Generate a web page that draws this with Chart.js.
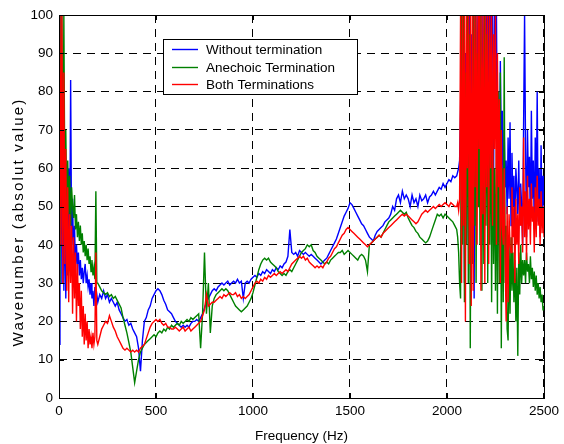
<!DOCTYPE html>
<html>
<head>
<meta charset="utf-8">
<script src="https://cdn.jsdelivr.net/npm/chart.js@4.4.0/dist/chart.umd.min.js"></script>
<style>
  html, body { margin: 0; padding: 0; background: #fff; }
</style>
</head>
<body>
<canvas id="wavenumber-chart" width="564" height="444"></canvas>
<script>
// frequency sampling (Hz): fine steps where the curves are noisy
const lowFreq = [];   // 0 .. 195, every 5 Hz
for (let f = 0; f < 200; f += 5) lowFreq.push(f);
const midFreq = [];   // 200 .. 2040, every 10 Hz
for (let f = 200; f < 2050; f += 10) midFreq.push(f);
const highFreq = [];  // 2050 .. 2500, every 5 Hz
for (let f = 2050; f <= 2500; f += 5) highFreq.push(f);

const xTicks = [0, 500, 1000, 1500, 2000, 2500];
const yTicks = [0, 10, 20, 30, 40, 50, 60, 70, 80, 90, 100];

const seriesNames = ['Without termination', 'Anechoic Termination', 'Both Terminations'];
const seriesColors = ['#0000ff', '#008000', '#ff0000'];

// Without termination
const blueLow = [
  14, 45, 100, 30, 72, 28, 55, 26, 48, 32,
  60, 35, 83, 40, 52, 36, 45, 33, 40, 35,
  38, 32, 36, 31, 34, 30, 33, 35, 30, 32,
  29, 31, 27, 30, 26, 28, 24, 29, 25, 27
];
const blueMid = [
  25, 27, 26, 28, 26, 27, 25, 26, 25, 24,
  25, 23, 22, 21, 20, 20.5, 19, 19.5, 18, 17,
  16, 13, 7, 15, 20, 21, 23, 24, 26, 27,
  28, 28.5, 28, 27, 25.5, 24.5, 23, 22.5, 22, 21,
  20, 19.5, 19, 18.5, 19, 18.5, 19, 18.5, 19.5, 20,
  20, 20.5, 20, 21, 22, 23.5, 25, 26, 27, 28,
  28.5, 28, 29, 29.5, 30, 29.5, 30, 30.5, 29.5, 30,
  30.5, 30, 31, 30, 30.5, 26, 30, 30.5, 30, 31,
  31.5, 32, 31.5, 32.5, 32, 33, 32.5, 33.5, 33, 32.5,
  33.5, 33, 34, 33.5, 34.5, 34, 35, 35.5, 37, 44,
  38, 37.5, 38, 37, 38.5, 38, 37.5, 38, 37.5, 37,
  37.5, 37, 36.5, 36, 35.5, 35, 35.5, 36, 36.5, 37.5,
  38.5, 39.5, 40.5, 41.5, 43, 44.5, 46, 47.5, 48.5, 49.5,
  51, 50.5, 49.5, 48.5, 47.5, 46.5, 45.5, 45, 44, 43,
  42, 41.5, 41, 42.5, 43.5, 44, 44.5, 45, 46, 46.5,
  47, 48, 50, 49, 52, 53, 51, 54, 52, 53,
  52, 50, 53, 51, 52, 50, 53, 51.5, 52, 53,
  51, 52.5, 53, 54, 53, 54, 55, 54.5, 56, 55,
  56, 57, 56.5, 58, 57.5
];
const blueHigh = [
  58, 59, 60, 62, 75, 100, 45, 100, 30, 90,
  55, 100, 40, 100, 60, 95, 35, 100, 26, 100,
  45, 100, 80, 100, 55, 100, 40, 100, 85, 100,
  60, 100, 45, 100, 75, 100, 90, 100, 55, 100,
  70, 100, 60, 80, 50, 88, 65, 75, 45, 70,
  55, 62, 48, 68, 52, 72, 45, 64, 50, 58,
  42, 60, 55, 48, 62, 45, 56, 50, 40, 72,
  100, 65, 42, 70, 55, 63, 45, 75, 52, 62,
  44, 68, 50, 80, 46, 60, 42, 66, 48, 58,
  50
];

// Anechoic Termination
const greenLow = [
  30, 100, 60, 100, 45, 100, 55, 70, 50, 62,
  48, 58, 45, 55, 50, 47, 53, 44, 48, 42,
  46, 41, 45, 40, 43, 38, 41, 37, 40, 36,
  39, 35, 37, 33, 36, 32, 34, 31, 54, 30
];
const greenMid = [
  30, 29, 28, 27.5, 27, 27.5, 26.5, 27, 26, 26.5,
  25.5, 24.5, 23.5, 21, 19, 17, 14.5, 12, 8, 4,
  7, 10, 12, 13, 14, 14.5, 15, 15.5, 16, 16.5,
  16, 17, 17.5, 17, 18, 17.5, 18.5, 18, 19, 18.5,
  19, 19.5, 19, 20, 19.5, 20, 20.5, 20, 21, 20.5,
  21, 21.5, 22, 13, 22, 38, 22, 30, 17, 24,
  26, 27, 27.5, 28, 28.5, 28, 28.5, 28, 27, 26,
  25, 24, 23.5, 23, 22.5, 23, 23.5, 24, 25, 26,
  27.5, 29.5, 31.5, 33.5, 35, 36, 36.5, 36, 36.5, 35.5,
  35, 34.5, 34, 33, 32.5, 32, 32.5, 32, 33, 33.5,
  33, 34, 35, 36, 37, 38, 38.5, 39, 40, 39.5,
  40, 38.5, 38, 37, 36.5, 36, 35.5, 35, 35.5, 35,
  36, 36.5, 37, 37.5, 38, 38, 38.5, 37.5, 38, 38.5,
  38, 37.5, 37, 36.5, 36, 37, 37.5, 37, 36, 33,
  40, 40.5, 41, 41.5, 42, 42.5, 42, 43, 44, 45,
  46, 46.5, 47, 47.5, 48, 48.5, 49, 48.5, 48, 48.5,
  47, 46, 45, 44.5, 43.5, 43, 42, 41.5, 41, 40.5,
  41, 42, 43.5, 45, 46.5, 48, 47.5, 48, 47, 48,
  47.5, 47, 46.5, 46, 45
];
const greenHigh = [
  44, 42, 38, 30, 26, 100, 40, 100, 25, 85,
  40, 100, 30, 95, 13, 70, 35, 100, 45, 100,
  30, 90, 50, 100, 40, 100, 28, 85, 35, 100,
  45, 95, 30, 75, 40, 88, 25, 70, 35, 60,
  28, 65, 22, 80, 30, 85, 13, 60, 25, 89,
  30, 45, 18, 15, 40, 22, 42, 28, 38, 25,
  36, 20, 34, 11, 38, 27, 40, 30, 36, 32,
  36, 30, 38, 33, 35, 30, 37, 31, 34, 29,
  33, 28, 32, 27, 30, 26, 29, 25, 27, 23,
  24
];

// Both Terminations
const redLow = [
  50, 100, 40, 100, 30, 85, 35, 65, 28, 55,
  25, 48, 30, 45, 22, 42, 26, 38, 20, 35,
  24, 30, 18, 28, 16, 24, 14, 22, 15, 20,
  13, 18, 14, 16, 13, 17, 14, 16, 38, 15
];
const redMid = [
  14, 16, 18, 19, 20, 19.5, 21.5, 20, 18.5, 17.5,
  16, 15, 14, 13, 12.5, 13, 12.5, 12, 12.5, 12,
  12.5, 12, 13, 13.5, 14, 15.5, 17, 18.5, 19.5, 20,
  20.5, 20, 20.5, 19.5, 19, 19.5, 18.5, 18.5, 18, 18,
  18.5, 18, 17.5, 18, 18.5, 17.5, 18, 18.5, 17.5, 18,
  18.5, 19, 19.5, 20, 21.5, 23, 27, 24, 24.5, 25,
  25, 25.5, 26, 26.5, 26, 27, 26.5, 27, 27.5, 27,
  27, 27.5, 26.5, 27, 26, 26.5, 26, 26.5, 27, 28,
  29, 30, 30.5, 30, 31, 30.5, 31.5, 31, 32, 31.5,
  32, 32.5, 32, 32.5, 33, 32.5, 33, 33.5, 33, 34,
  35, 35.5, 36, 36.5, 37, 36.5, 37, 36, 36.5, 35.5,
  35, 34.5, 34, 34.5, 34, 34.5, 34, 35, 35.5, 36.5,
  37, 38, 39, 39.5, 40.5, 41.5, 42.5, 43, 44, 44.5,
  44, 43.5, 43, 42.5, 42, 41.5, 41, 40.5, 40, 39.5,
  40, 40.5, 41, 41.5, 42, 42.5, 42, 43, 43.5, 44,
  44.5, 45, 45.5, 46, 46.5, 47, 47.5, 48, 47.5, 48,
  47.5, 47, 46.5, 46, 45.5, 46, 47, 48, 48.5, 49,
  48.5, 49, 49.5, 50, 49.5, 50, 50.5, 50, 50.5, 51,
  50.5, 50, 51, 50.5, 50
];
const redHigh = [
  50, 51, 49, 52, 100, 30, 100, 45, 100, 20,
  100, 60, 100, 35, 100, 24, 100, 28, 100, 55,
  100, 40, 100, 65, 100, 28, 100, 48, 100, 30,
  100, 55, 100, 35, 100, 60, 100, 45, 95, 65,
  100, 40, 90, 55, 78, 30, 70, 45, 40, 60,
  35, 20, 50, 25, 48, 40, 38, 55, 42, 50,
  30, 52, 40, 48, 35, 55, 45, 50, 38, 68,
  42, 54, 36, 58, 44, 52, 40, 56, 46, 50,
  38, 55, 42, 58, 45, 52, 40, 54, 43, 50,
  42
];

const freq = lowFreq.concat(midFreq, highFreq);
const blue = blueLow.concat(blueMid, blueHigh);
const green = greenLow.concat(greenMid, greenHigh);
const red = redLow.concat(redMid, redHigh);

const toPoints = (values) => freq.map((f, i) => ({ x: f, y: values[i] }));

const FONT = '"Liberation Sans", Arial, Helvetica, sans-serif';
Chart.defaults.font.family = FONT;
Chart.defaults.color = '#000';

// MATLAB-style box with inward ticks
const frame = {
  id: 'frame',
  afterDatasetsDraw(chart) {
    const { ctx, chartArea: a, scales: { x, y } } = chart;
    ctx.save();
    ctx.strokeStyle = '#000';
    ctx.lineWidth = 1;
    ctx.setLineDash([]);
    ctx.beginPath();
    xTicks.forEach((v) => {
      const px = Math.round(x.getPixelForValue(v)) + 0.5;
      ctx.moveTo(px, a.bottom); ctx.lineTo(px, a.bottom - 5);
      ctx.moveTo(px, a.top); ctx.lineTo(px, a.top + 5);
    });
    yTicks.forEach((v) => {
      const py = Math.round(y.getPixelForValue(v)) + 0.5;
      ctx.moveTo(a.left, py); ctx.lineTo(a.left + 5, py);
      ctx.moveTo(a.right, py); ctx.lineTo(a.right - 5, py);
    });
    ctx.stroke();
    ctx.strokeRect(a.left + 0.5, a.top + 0.5, a.right - a.left, a.bottom - a.top);
    ctx.restore();
  }
};

// legend box inside the axes, and the y label
const boxLegend = {
  id: 'boxLegend',
  afterDraw(chart) {
    const { ctx, chartArea: a } = chart;
    const left = a.left + 104, top = a.top + 24;
    ctx.save();
    ctx.setLineDash([]);
    ctx.fillStyle = '#fff';
    ctx.fillRect(left, top, 194, 55);
    ctx.strokeStyle = '#000';
    ctx.lineWidth = 1;
    ctx.strokeRect(left + 0.5, top + 0.5, 194, 55);
    ctx.font = '13.5px ' + FONT;
    ctx.textBaseline = 'middle';
    for (let i = 0; i < seriesNames.length; i++) {
      const ly = Math.round(top + 10 + i * 17.5) + 0.5;
      ctx.beginPath();
      ctx.strokeStyle = seriesColors[i];
      ctx.lineWidth = 1.4;
      ctx.moveTo(left + 9, ly);
      ctx.lineTo(left + 35, ly);
      ctx.stroke();
      ctx.fillStyle = '#000';
      ctx.fillText(seriesNames[i], left + 43, ly + 0.5);
    }
    ctx.restore();

    const label = 'Wavenumber (absolut value)';
    ctx.save();
    ctx.translate(19, 222);
    ctx.rotate(-Math.PI / 2);
    ctx.font = '14px ' + FONT;
    if ('letterSpacing' in ctx) ctx.letterSpacing = '2px';
    const w = ctx.measureText(label).width;
    ctx.scale(249 / w, 1);
    ctx.textAlign = 'center';
    ctx.textBaseline = 'middle';
    ctx.fillStyle = '#000';
    ctx.fillText(label, 0, 0);
    ctx.restore();
  }
};

const lineStyle = (i, order) => ({
  label: seriesNames[i],
  borderColor: seriesColors[i],
  backgroundColor: seriesColors[i],
  borderWidth: 1.4,
  pointRadius: 0,
  showLine: true,
  tension: 0,
  order: order
});

new Chart(document.getElementById('wavenumber-chart'), {
  type: 'scatter',
  data: {
    datasets: [
      { ...lineStyle(0, 3), data: toPoints(blue) },
      { ...lineStyle(1, 2), data: toPoints(green) },
      { ...lineStyle(2, 1), data: toPoints(red) }
    ]
  },
  options: {
    responsive: false,
    animation: false,
    layout: { padding: { top: 15, right: 18, left: 0, bottom: 0 } },
    plugins: {
      legend: { display: false },
      tooltip: { enabled: false }
    },
    scales: {
      x: {
        type: 'linear',
        min: 0,
        max: 2500,
        afterFit: (scale) => { scale.height = 46; },
        afterBuildTicks: (scale) => { scale.ticks = xTicks.map((v) => ({ value: v })); },
        ticks: {
          padding: 5,
          maxRotation: 0,
          font: { size: 13.5 },
          color: '#000',
          callback: (v) => String(v)
        },
        grid: { color: '#000', lineWidth: 1, drawTicks: false },
        border: { display: false, dash: [8, 6] },
        title: {
          display: true,
          text: 'Frequency (Hz)',
          font: { size: 13.5 },
          color: '#000',
          padding: { top: 0, bottom: 0 }
        }
      },
      y: {
        type: 'linear',
        min: 0,
        max: 100,
        afterFit: (scale) => { scale.width = 59; },
        afterBuildTicks: (scale) => { scale.ticks = yTicks.map((v) => ({ value: v })); },
        ticks: {
          padding: 6,
          font: { size: 13.5 },
          color: '#000',
          callback: (v) => String(v)
        },
        grid: { color: '#000', lineWidth: 1, drawTicks: false },
        border: { display: false, dash: [8, 6] }
      }
    }
  },
  plugins: [frame, boxLegend]
});
</script>
</body>
</html>
